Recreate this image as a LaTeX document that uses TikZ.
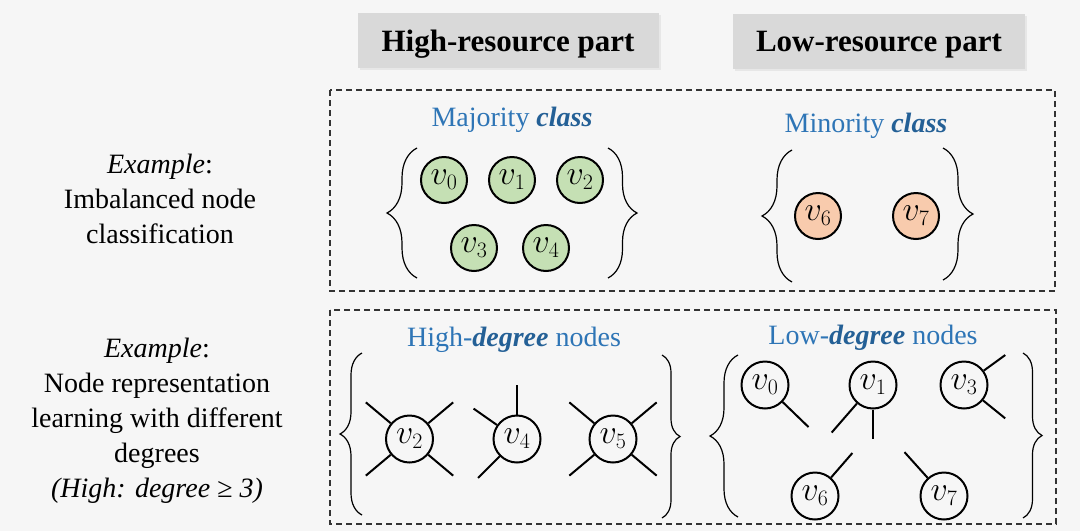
\RequirePackage{fix-cm}
\documentclass[tikz,border=0pt]{standalone}
\usepackage{fontspec}
\setmainfont{Liberation Serif}
\usepackage{xcolor}
\usepackage{tikz}
\usetikzlibrary{positioning, decorations.pathreplacing, shadows}

\DeclareMathSizes{34}{34}{22}{16}

\definecolor{bgcol}{RGB}{246,246,246}
\definecolor{hdrgray}{RGB}{217,217,217}
\definecolor{lblue}{RGB}{46,117,182}
\definecolor{dblue}{RGB}{36,96,150}
\definecolor{majgreen}{RGB}{197,224,180}
\definecolor{minorange}{RGB}{248,203,173}

\begin{document}
\begin{tikzpicture}[
    x=1pt, y=1pt,
    node distance=20pt,
    every node/.style={font=\rmfamily\fontsize{28}{35}\selectfont},
    header/.style={rectangle, fill=hdrgray, minimum height=55pt, text depth=0pt, font=\rmfamily\fontsize{31}{36}\selectfont\bfseries, drop shadow={opacity=0.12, shadow xshift=2pt, shadow yshift=-2pt}},
    sidetext/.style={align=center},
    grouplabel/.style={text=lblue, anchor=base},
    majnode/.style={circle, draw, line width=2pt, fill=majgreen, minimum size=46pt, inner sep=0pt, font=\fontsize{34}{38}\selectfont},
    minnode/.style={majnode, fill=minorange},
    degnode/.style={circle, draw, line width=2pt, minimum size=47pt, inner sep=0pt, font=\fontsize{34}{38}\selectfont},
    stub/.style={line width=2pt},
    part/.style={draw=black!80, line width=1.3pt, dash pattern=on 6pt off 4pt},
    curly/.style={decorate, decoration={brace, amplitude=#1}, line width=1.2pt}
]
\path[use as bounding box, fill=bgcol] (0,0) rectangle (1080,-531);

\node[header, minimum width=301pt] (hdrhigh) at (508,-40.5) {High-resource part};
\node[header, minimum width=292pt] (hdrlow) at (879,-41) {Low-resource part};

\draw[part] (330,-90) rectangle (1055,-291);
\draw[part] (330,-310) rectangle (1056,-524);

\node[sidetext] (exclass) at (160,-199) {\textit{Example}:\\Imbalanced node\\classification};
\node[sidetext] (exdeg) at (157,-421) {\textit{Example}:\\Node representation\\learning with different\\degrees\\\textit{(High: degree ≥ 3)}};

\node[grouplabel] (majlabel) at (512,-126) {Majority \textcolor{dblue}{\textbf{\textit{class}}}};
\node[grouplabel] (minlabel) at (866,-132) {Minority \textcolor{dblue}{\textbf{\textit{class}}}};
\node[grouplabel] (highlabel) at (514,-346) {High-\textcolor{dblue}{\textbf{\textit{degree}}} nodes};
\node[grouplabel] (lowlabel) at (873,-344) {Low-\textcolor{dblue}{\textbf{\textit{degree}}} nodes};

\node[majnode] (c0) at (444,-180) {$v_0$};
\node[majnode, right=of c0] (c1) {$v_1$};
\node[majnode, right=of c1] (c2) {$v_2$};
\node[majnode] (c3) at (474,-248) {$v_3$};
\node[majnode, right=24pt of c3] (c4) {$v_4$};
\node[minnode] (m6) at (818,-216) {$v_6$};
\node[minnode, right=50pt of m6] (m7) {$v_7$};

\draw[curly=30] (417,-278) -- (417,-148);
\draw[curly=29] (608,-148) -- (608,-278);
\draw[curly=30] (792,-282) -- (792,-150);
\draw[curly=30] (943,-148) -- (943,-280);

\node[degnode] (h2) at (409.5,-439) {$v_2$};
\node[degnode] (h4) at (517,-439) {$v_4$};
\node[degnode] (h5) at (613,-439) {$v_5$};
\node[degnode] (l0) at (765,-385) {$v_0$};
\node[degnode] (l1) at (873,-385) {$v_1$};
\node[degnode] (l3) at (964,-385) {$v_3$};
\node[degnode] (l6) at (815,-496) {$v_6$};
\node[degnode] (l7) at (944,-496) {$v_7$};

\foreach \a in {40,140,220,320} {
  \draw[stub] (h2.\a) -- ++(\a:32.5);
  \draw[stub] (h5.\a) -- ++(\a:32.5);
}
\foreach \a/\len in {90/29.5,145/28.5,225/30.5}
  \draw[stub] (h4.\a) -- ++(\a:\len);
\draw[stub] (l0.316) -- ++(316:36);
\draw[stub] (l1.229) -- ++(229:38.5);
\draw[stub] (l1.270) -- ++(270:29.5);
\draw[stub] (l3.36) -- ++(36:26.5);
\draw[stub] (l3.321) -- ++(321:28.5);
\draw[stub] (l6.49) -- ++(49:32.5);
\draw[stub] (l7.132) -- ++(132:34.5);

\draw[curly=22] (362,-515) -- (362,-353);
\draw[curly=18] (662,-355) -- (662,-518);
\draw[curly=28] (738,-517) -- (738,-355);
\draw[curly=19] (1023,-353) -- (1023,-518);
\end{tikzpicture}
\end{document}
